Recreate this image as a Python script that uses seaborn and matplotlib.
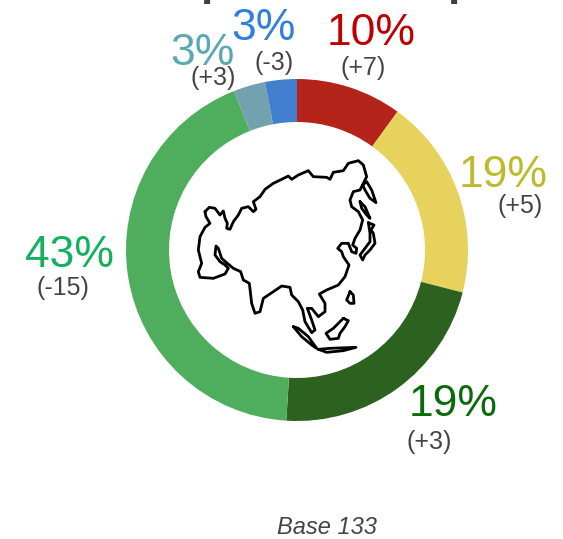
import matplotlib
matplotlib.use("Agg")
import matplotlib.pyplot as plt
import numpy as np
import pandas as pd
import seaborn as sns

# --- chart data ---
shares = [10, 19, 22, 43, 3, 3]   # arc sizes as drawn
pct_labels = ["10%", "19%", "19%", "43%", "3%", "3%"]
change_labels = ["(+7)", "(+5)", "(+3)", "(-15)", "(+3)", "(-3)"]
slice_colors = ["#B5241B", "#E6D25C", "#2C611F", "#4FAE5E", "#72A2AE", "#427FCE"]
label_colors = ["#C00000", "#BDBB2B", "#0B6B0B", "#12B060", "#5BA8B5", "#2E80DC"]
base_text = "Base 133"

# map outline (image-traced)
mainland_x = [105,118,135,150,160,165,172,170,180,190,205,215,235,250,258,250,270,285,310,335,355,365,385,415,430,470,480,490,520,535,565,580,590,580,570,550,540,545,565,578,570,555,548,560,558,545,535,515,503,515,520,537,525,505,470,448,465,465,445,425,412,425,435,425,405,398,385,365,360,335,310,280,270,255,245,238,220,212,190,172,155,145,138,135,150,165,175,165,130,90,85,95,85,90,105,120,108,105]
mainland_y = [215,202,205,225,213,235,250,265,268,245,225,205,200,215,208,185,170,148,130,118,108,118,105,92,110,112,118,97,92,70,62,75,110,130,150,155,180,200,215,240,270,295,315,325,340,335,310,310,325,335,350,375,410,435,450,462,490,515,530,505,505,540,570,578,545,510,485,465,442,438,455,475,515,520,490,430,420,395,385,370,355,325,318,345,365,375,385,402,415,412,395,370,330,290,262,250,230,215]
sakhalin_x = [578,590,605,618,600,585,578]
sakhalin_y = [135,125,150,188,175,150,135]
kuril_x = [570,585,600,590,575,570]
kuril_y = [185,200,235,225,205,185]
japan_x = [595,612,603,610,615,600,585,578,570,585,600,600,595]
japan_y = [248,255,270,280,310,330,345,360,345,325,305,280,248]
phil_x = [540,550,552,540,530,540]
phil_y = [455,465,490,490,480,455]
sumatra_x = [370,385,415,440,425,395,370]
sumatra_y = [560,565,590,625,615,590,560]
java_x = [445,480,558,520,470,445]
java_y = [628,625,622,632,637,628]
borneo_x = [520,535,525,510,505,480,468,490,505,520]
borneo_y = [535,542,560,580,595,598,580,565,550,535]

sns.set_theme(style="white")
plt.rcParams["font.family"] = ["Liberation Sans", "DejaVu Sans"]

W, H = 563, 539
fig = plt.figure(figsize=(W / 100, H / 100), dpi=100, facecolor="white")
ax = fig.add_axes([0, 0, 1, 1])
ax.set_xlim(0, W)
ax.set_ylim(H, 0)
ax.axis("off")

# donut in its own square axes
cx, cy, R = 297, 250, 171
dax = fig.add_axes([(cx - R) / W, (H - cy - R) / H, 2 * R / W, 2 * R / H])
dax.pie(shares, colors=sns.color_palette(slice_colors), startangle=90, counterclock=False,
        radius=1.0, wedgeprops=dict(width=43 / 171, linewidth=0))
dax.set_xlim(-1, 1)
dax.set_ylim(-1, 1)
dax.set_aspect("equal")

# map
mx = fig.add_axes([170 / W, (H - 370) / H, 240 / W, 230 / H])
mx.patch.set_alpha(0)
parts = [(mainland_x, mainland_y), (sakhalin_x, sakhalin_y), (kuril_x, kuril_y), (japan_x, japan_y),
         (phil_x, phil_y), (sumatra_x, sumatra_y), (java_x, java_y), (borneo_x, borneo_y)]
frames = [pd.DataFrame({"x": px, "y": py, "part": i}) for i, (px, py) in enumerate(parts)]
outline = pd.concat(frames)
sns.lineplot(data=outline, x="x", y="y", units="part", estimator=None, sort=False,
             color="black", linewidth=2.0, ax=mx, legend=False,
             solid_joinstyle="round", solid_capstyle="round")
mx.set_xlim(0, 720)
mx.set_ylim(690, 0)
mx.axis("off")

# percentage labels: (x centre, baseline) in pixels
pct_pos = [(371, 45), (503, 187), (453, 416), (70, 267), (203, 65), (264, 40)]
chg_pos = [(363, 75), (520, 213), (429, 449), (63, 295), (213, 85), (274, 70)]
for t, c, (x, y) in zip(pct_labels, label_colors, pct_pos):
    ax.text(x, y, t, color=c, fontsize=32, ha="center", va="baseline")
for t, (x, y) in zip(change_labels, chg_pos):
    ax.text(x, y, t, color="#444444", fontsize=18, ha="center", va="baseline")

ax.text(327, 534, base_text, color="#444444", fontsize=17, style="italic", ha="center", va="baseline")

# descenders of the cropped heading
for x in (200, 447):
    ax.text(x, -4.5, "p", color="#404040", fontsize=32, fontweight="bold", ha="left", va="baseline")

fig.savefig("out.png", dpi=100)
